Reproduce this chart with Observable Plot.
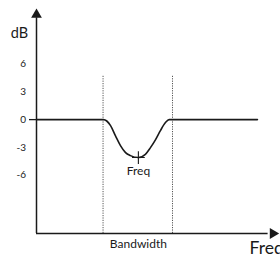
<!DOCTYPE html>
<html><head><meta charset="utf-8">
<script src="https://cdn.jsdelivr.net/npm/d3@7"></script>
<script src="https://cdn.jsdelivr.net/npm/@observablehq/plot@0.6"></script>
<style>body{margin:0;background:#fff} svg{display:block}</style>
</head><body><div id="chart"></div>
<script>
// Data
const freqX  = [0, 27.7, 30.6, 32.6, 34.7, 36.8, 38.8, 42.1, 45.0, 47.1, 49.2, 51.2, 53.3, 54.8, 91.3];
const gainDb = [0, 0, -0.65, -1.73, -2.81, -3.57, -3.89, -4.1, -3.75, -3.03, -2.16, -1.19, -0.32, 0, 0];
const dbTicks = [6, 3, 0, -3, -6];
const bandEdges = [27.5, 56.2];
const centerFreq = [{x: 42.1, y: -4.1}];
const yMin = -12.3, yMax = 12, yArrowBase = 11, xArrowEnd = 97.7;

const response = freqX.map((x, i) => ({x, y: gainDb[i]}));
const ink = "#1a1a1a";
const font = "Lato, 'Open Sans', sans-serif";

const chart = Plot.plot({
  width: 280, height: 255,
  marginLeft: 36, marginRight: 2, marginTop: 8, marginBottom: 22,
  x: {domain: [0, 100], axis: null},
  y: {domain: [yMin, yMax]},
  style: {fontFamily: font, fontSize: "10px", color: ink, background: "#fff"},
  marks: [
    Plot.ruleX(bandEdges, {y1: yMin, y2: 4.7, stroke: "#555", strokeWidth: 1, strokeDasharray: "1.2,1.2"}),
    Plot.axisY({ticks: dbTicks, tickSize: 0, tickPadding: 10.5, tickFormat: d => String(d), label: null, fontSize: 10}),
    Plot.axisY({ticks: [0], tickSize: 7, tickFormat: () => "", label: null, strokeWidth: 1.3}),
    Plot.ruleX([0], {y1: yMin, y2: yArrowBase, stroke: ink, strokeWidth: 1.5}),
    Plot.ruleY([yMin], {x1: 0, x2: xArrowEnd - 2, stroke: ink, strokeWidth: 1.5}),
    Plot.dot([{x: 0, y: yMax}], {x: "x", y: "y", symbol: "triangle", r: 4, fill: ink, stroke: null, dy: 6.2}),
    Plot.dot([{x: xArrowEnd, y: yMin}], {x: "x", y: "y", symbol: "triangle", r: 4, fill: ink, stroke: null, rotate: 90}),
    Plot.line(response, {x: "x", y: "y", curve: "monotone-x", stroke: ink, strokeWidth: 1.6}),
    Plot.dot(centerFreq, {x: "x", y: "y", symbol: "plus", r: 4.2, stroke: ink, strokeWidth: 1.1}),
    Plot.text(centerFreq, {x: "x", y: "y", text: () => "Freq", dy: 17, lineAnchor: "bottom", fontSize: 12, fill: ink}),
    Plot.text([{x: 42.1}], {x: "x", frameAnchor: "bottom", text: () => "Bandwidth", dy: 14.5, lineAnchor: "bottom", fontSize: 12, fill: ink}),
    Plot.text(["dB"], {frameAnchor: "top-left", text: d => d, dx: -17, dy: 25, textAnchor: "middle", lineAnchor: "middle", fontSize: 14.5, fill: ink}),
    Plot.text(["Freq"], {frameAnchor: "bottom-right", text: d => d, dx: -29, dy: 20.5, textAnchor: "start", lineAnchor: "bottom", fontSize: 17.5, fill: ink})
  ]
});
document.getElementById("chart").append(chart);
</script>
</body></html>
